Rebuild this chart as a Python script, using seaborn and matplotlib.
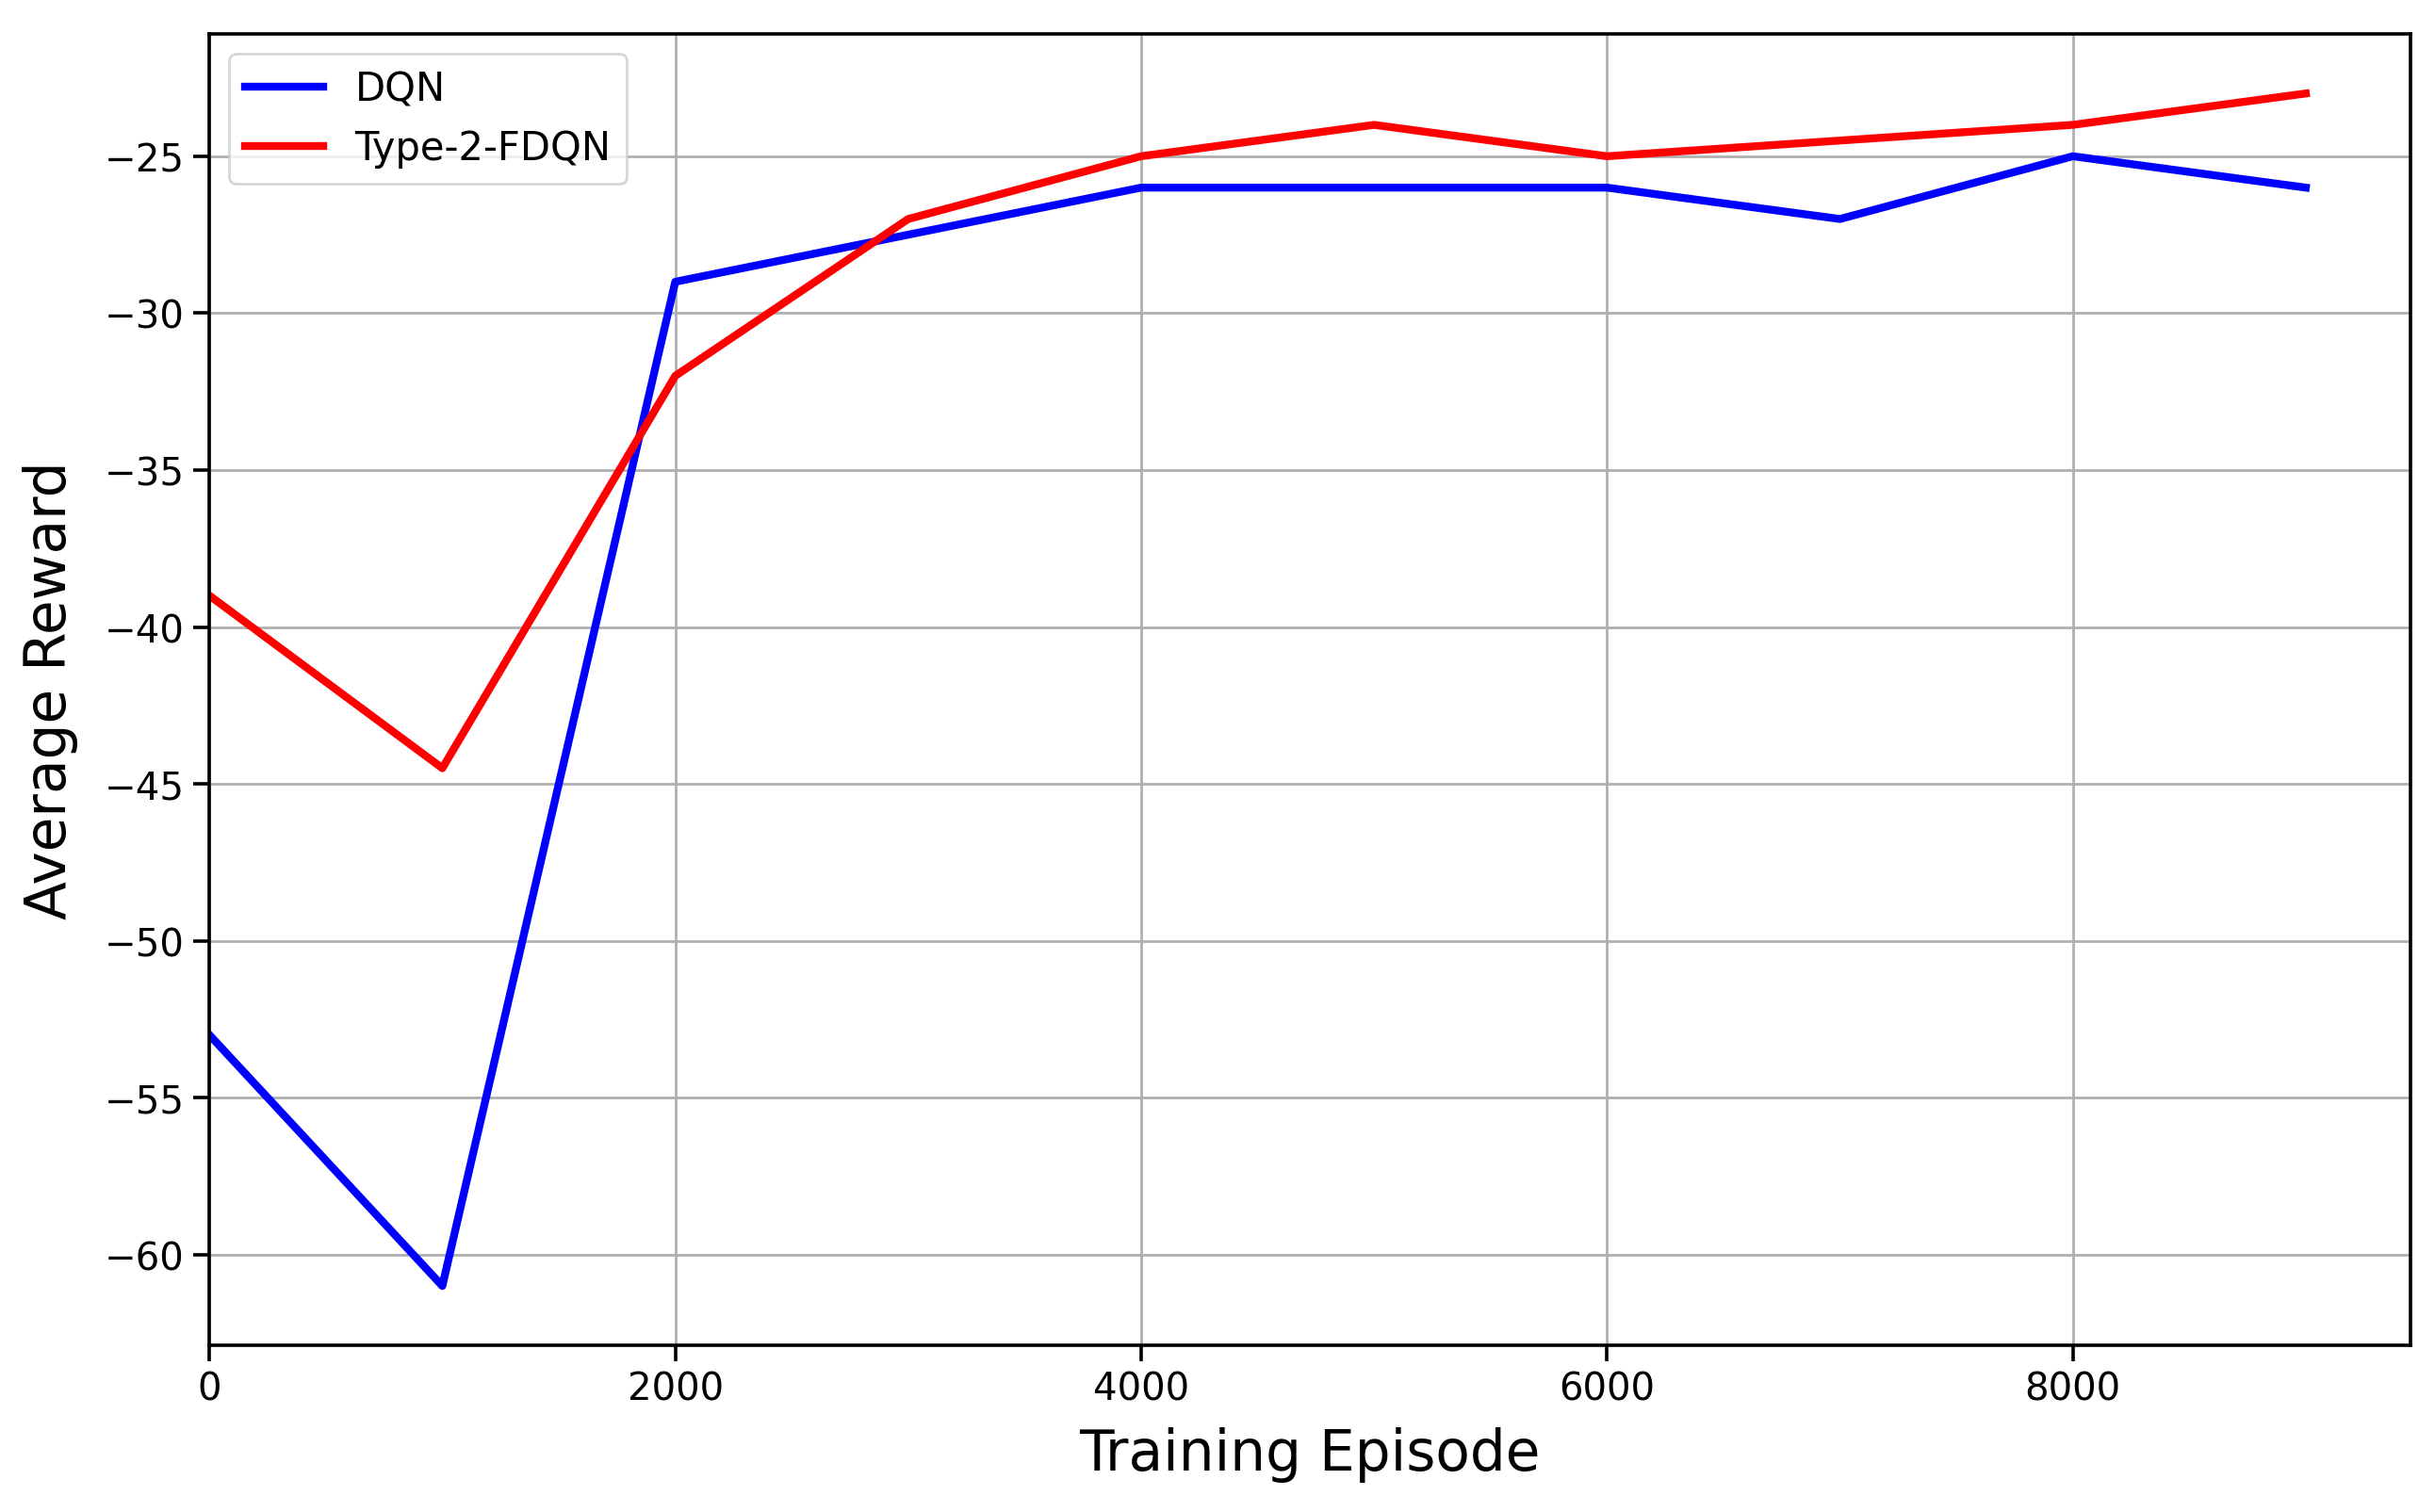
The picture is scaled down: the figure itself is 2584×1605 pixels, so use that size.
import pandas as pd
import matplotlib
matplotlib.use("Agg")
import matplotlib.pyplot as plt
import seaborn as sns

episodes = [0, 1000, 2000, 3000, 4000, 5000, 6000, 7000, 8000, 9000]
dqn_reward = [-53, -61, -29, -27.5, -26, -26, -26, -27, -25, -26]
fdqn_reward = [-39, -44.5, -32, -27, -25, -24, -25, -24.5, -24, -23]
series_names = ["DQN", "Type-2-FDQN"]
series_colors = ["blue", "red"]

df = pd.concat([
    pd.DataFrame({"episode": episodes, "reward": dqn_reward, "model": series_names[0]}),
    pd.DataFrame({"episode": episodes, "reward": fdqn_reward, "model": series_names[1]}),
])

fig, ax = plt.subplots(figsize=(12.92, 8.03), dpi=200)
fig.subplots_adjust(left=0.086, right=0.99, top=0.977, bottom=0.11)

sns.lineplot(data=df, x="episode", y="reward", hue="model",
             palette=dict(zip(series_names, series_colors)), linewidth=3.0, ax=ax)

ax.set_xlim(left=0)
ax.grid(True, color="#b0b0b0", linewidth=1.0)
ax.set_xlabel("Training Episode", fontsize=21.5, labelpad=7)
ax.set_ylabel("Average Reward", fontsize=21.5, labelpad=10)
ax.tick_params(labelsize=14.5, width=1.3, length=6)
for s in ax.spines.values():
    s.set_linewidth(1.3)
ax.legend(title=None, loc="upper left", fontsize=15)

plt.savefig("out.png", dpi=200)
